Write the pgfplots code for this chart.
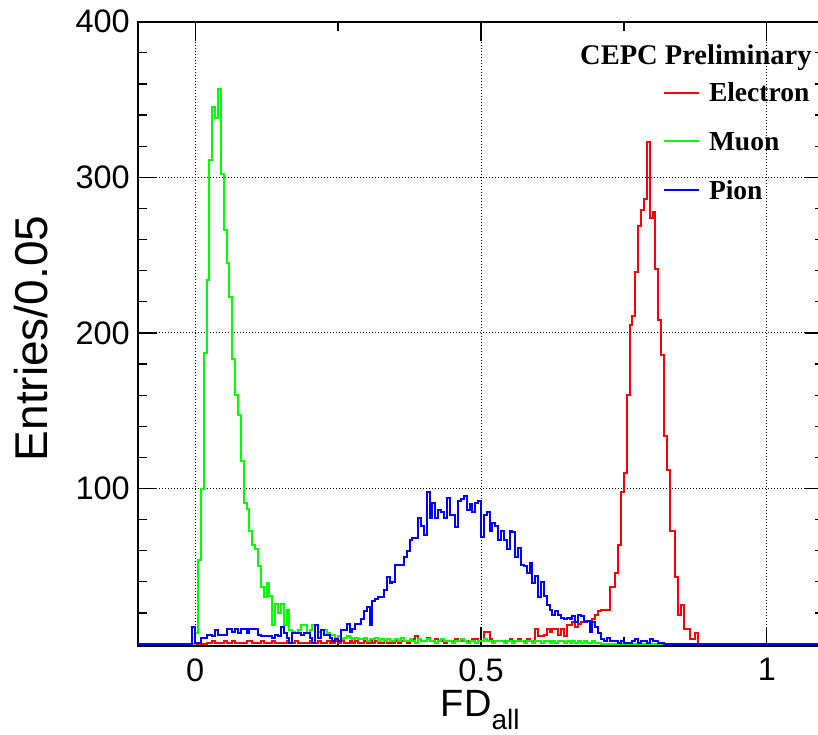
\documentclass[border=0pt]{standalone}
\usepackage{pgfplots}
\pgfplotsset{compat=1.18}
\usepackage{pgfplotstable}
\usepackage{fontspec}
\setmainfont{Liberation Serif}
\newfontfamily\arialfont{Liberation Sans}

% bin index k (bin left edge = 0.005*k), entries
\pgfplotstableread{
k y
-20 0
4 1
5 1
6 2
7 1
8 1
9 1
10 2
11 1
12 1
13 2
14 1
15 1
16 1
17 1
18 2
19 2
20 1
21 1
22 1
23 2
24 1
25 1
26 1
27 2
28 1
29 1
30 1
31 1
32 2
33 1
34 1
35 2
36 1
37 1
38 1
39 1
40 2
41 1
42 1
43 2
44 1
45 1
46 2
47 1
48 1
49 2
50 1
51 2
52 1
53 1
54 2
55 1
56 2
57 1
58 1
59 2
60 1
61 2
62 1
63 2
64 1
65 1
66 2
67 1
68 2
69 1
70 2
71 1
72 2
73 2
74 1
75 2
76 3
77 5
78 3
79 2
80 2
81 4
82 2
83 2
84 3
85 2
86 2
87 1
88 2
89 2
90 2
91 3
92 2
93 2
94 2
95 2
96 2
97 3
98 3
99 2
100 2
101 8
102 8
103 3
104 2
105 2
106 2
107 2
108 2
109 2
110 3
111 2
112 2
113 3
114 2
115 2
116 3
117 2
118 2
119 10
120 5
121 5
122 6
123 10
124 8
125 10
126 10
127 6
128 10
129 5
130 12
131 12
132 14
133 11
134 13
135 14
136 15
137 15
138 14
139 16
140 19
141 21
142 22
143 22
144 22
145 37
146 37
147 46
148 64
149 98
150 110
151 160
152 205
153 211
154 239
155 269
156 279
157 286
158 323
159 274
160 278
161 241
162 208
163 186
164 134
165 112
166 73
167 73
168 43
169 19
170 25
171 10
172 10
173 3
174 3
175 7
176 0
220 0
}\electron

\pgfplotstableread{
k y
-20 0
0 7
1 54
2 100
3 187
4 234
5 311
6 345
7 338
8 357
9 302
10 266
11 245
12 223
13 183
14 160
15 147
16 118
17 91
18 87
19 73
20 64
21 61
22 50
23 37
24 30
25 39
26 31
27 12
28 26
29 20
30 26
31 12
32 22
33 9
34 8
35 7
36 9
37 12
38 12
39 7
40 9
41 12
42 12
43 8
44 9
45 9
46 7
47 6
48 6
49 4
50 5
51 3
52 4
53 5
54 4
55 3
56 4
57 3
58 3
59 4
60 2
61 3
62 3
63 4
64 2
65 3
66 2
67 3
68 2
69 2
70 3
71 2
72 4
73 2
74 2
75 3
76 2
77 1
78 3
79 2
80 2
81 3
82 2
83 2
84 1
85 2
86 3
87 2
88 2
89 2
90 1
91 2
92 2
93 3
94 2
95 1
96 2
97 2
98 1
99 2
100 2
101 3
102 2
103 2
104 1
105 2
106 2
107 2
108 1
109 2
110 2
111 1
112 2
113 2
114 2
115 1
116 2
117 2
118 1
119 2
120 2
121 1
122 2
123 2
124 1
125 2
126 1
127 2
128 2
129 1
130 2
131 1
132 2
133 1
134 2
135 1
136 2
137 1
138 1
139 2
140 1
141 1
142 0
220 0
}\muon

\pgfplotstableread{
k y
-20 0
-1 11
0 1
1 1
2 4
3 4
4 6
5 6
6 5
7 9
8 6
9 6
10 6
11 10
12 10
13 8
14 10
15 7
16 10
17 10
18 7
19 10
20 10
21 10
22 6
23 5
24 5
25 5
26 5
27 4
28 6
29 5
30 11
31 7
32 4
33 1
34 7
35 7
36 7
37 6
38 7
39 7
40 4
41 1
42 12
43 4
44 9
45 6
46 6
47 4
48 2
49 3
50 2
51 9
52 9
53 13
54 8
55 10
56 13
57 13
58 16
59 21
60 24
61 12
62 28
63 29
64 30
65 30
66 35
67 43
68 39
69 40
70 51
71 51
72 51
73 56
74 60
75 67
76 68
77 68
78 81
79 76
80 70
81 98
82 81
83 91
84 81
85 86
86 85
87 81
88 94
89 83
90 83
91 75
92 92
93 93
94 95
95 86
96 90
97 85
98 91
99 92
100 69
101 83
102 85
103 73
104 78
105 76
106 67
107 73
108 67
109 61
110 73
111 72
112 56
113 62
114 51
115 50
116 46
117 52
118 39
119 44
120 30
121 40
122 31
123 25
124 22
125 19
126 21
127 19
128 17
129 16
130 17
131 16
132 18
133 14
134 19
135 18
136 14
137 15
138 8
139 14
140 11
141 7
142 3
143 2
144 4
145 2
146 2
147 2
148 1
149 2
150 1
151 1
152 1
153 2
154 3
155 1
156 2
157 2
158 1
159 3
160 2
161 2
162 1
163 1
164 0
220 0
}\pion

\begin{document}
\begin{tikzpicture}
\begin{axis}[
  at={(0pt,0pt)}, anchor=south west,
  scale only axis, width=686pt, height=624pt,
  xmin=-0.1, xmax=1.1, ymin=-1, ymax=400,
  xtick={0,0.5,1}, xticklabels={0,0.5,1},
  minor xtick={0.25,0.75},
  ytick={100,200,300,400},
  minor ytick={20,40,60,80,120,140,160,180,220,240,260,280,320,340,360,380},
  major tick length=19pt, minor tick length=9pt,
  tick style={black, line width=1.2pt},
  axis line style={line width=2.2pt},
  xmajorgrids, ymajorgrids,
  grid style={black, line width=1pt, dash pattern=on 1pt off 2pt},
  /pgf/number format/assume math mode=true,
  ticklabel style={font=\arialfont\fontsize{32.5}{32.5}\selectfont},
  xticklabel style={anchor=north, inner sep=0pt, yshift=-12.6pt},
  yticklabel style={anchor=east, inner sep=0pt, xshift=-8pt},
  every axis x label/.style={at={(axis description cs:0.4413,-0.1138)}, anchor=base west, inner sep=0pt, font=\arialfont},
  every axis y label/.style={at={(axis description cs:-0.1312,0.4923)}, rotate=90, anchor=base, inner sep=0pt, font=\arialfont\fontsize{46}{46}\selectfont},
  xlabel={\fontsize{38}{38}\selectfont FD\raisebox{-13pt}{\fontsize{28}{28}\selectfont all}},
  ylabel={Entries/0.05},
  legend style={draw=none, fill=none, at={(rel axis cs:0.7653,0.9010)}, anchor=north west, inner sep=0pt, outer sep=0pt, row sep=30.5pt, font=\bfseries\fontsize{27.5}{27.5}\selectfont, nodes={inner sep=0pt, text height=18.2pt, text depth=0pt}},
  legend cell align=left,
  legend image code/.code={\draw[#1, line width=2pt] (0pt,0pt) -- (35pt,0pt); \path (44pt,0pt);},
]
\addplot[const plot, red, line width=2pt] table[x expr=\thisrow{k}*0.005, y=y] {\electron};
\addlegendentry{Electron}
\addplot[const plot, green, line width=2pt] table[x expr=\thisrow{k}*0.005, y=y] {\muon};
\addlegendentry{Muon}
\addplot[const plot, blue, line width=2pt] table[x expr=\thisrow{k}*0.005, y=y] {\pion};
\addlegendentry{Pion}
\node[anchor=base west, inner sep=0pt, font=\bfseries\fontsize{28.5}{28.5}\selectfont] at (rel axis cs:0.6443,0.9306) {CEPC Preliminary};
\end{axis}
\pgfresetboundingbox
\path[use as bounding box] (-138pt,-89.3pt) rectangle (680pt,645.7pt);
\end{tikzpicture}
\end{document}
